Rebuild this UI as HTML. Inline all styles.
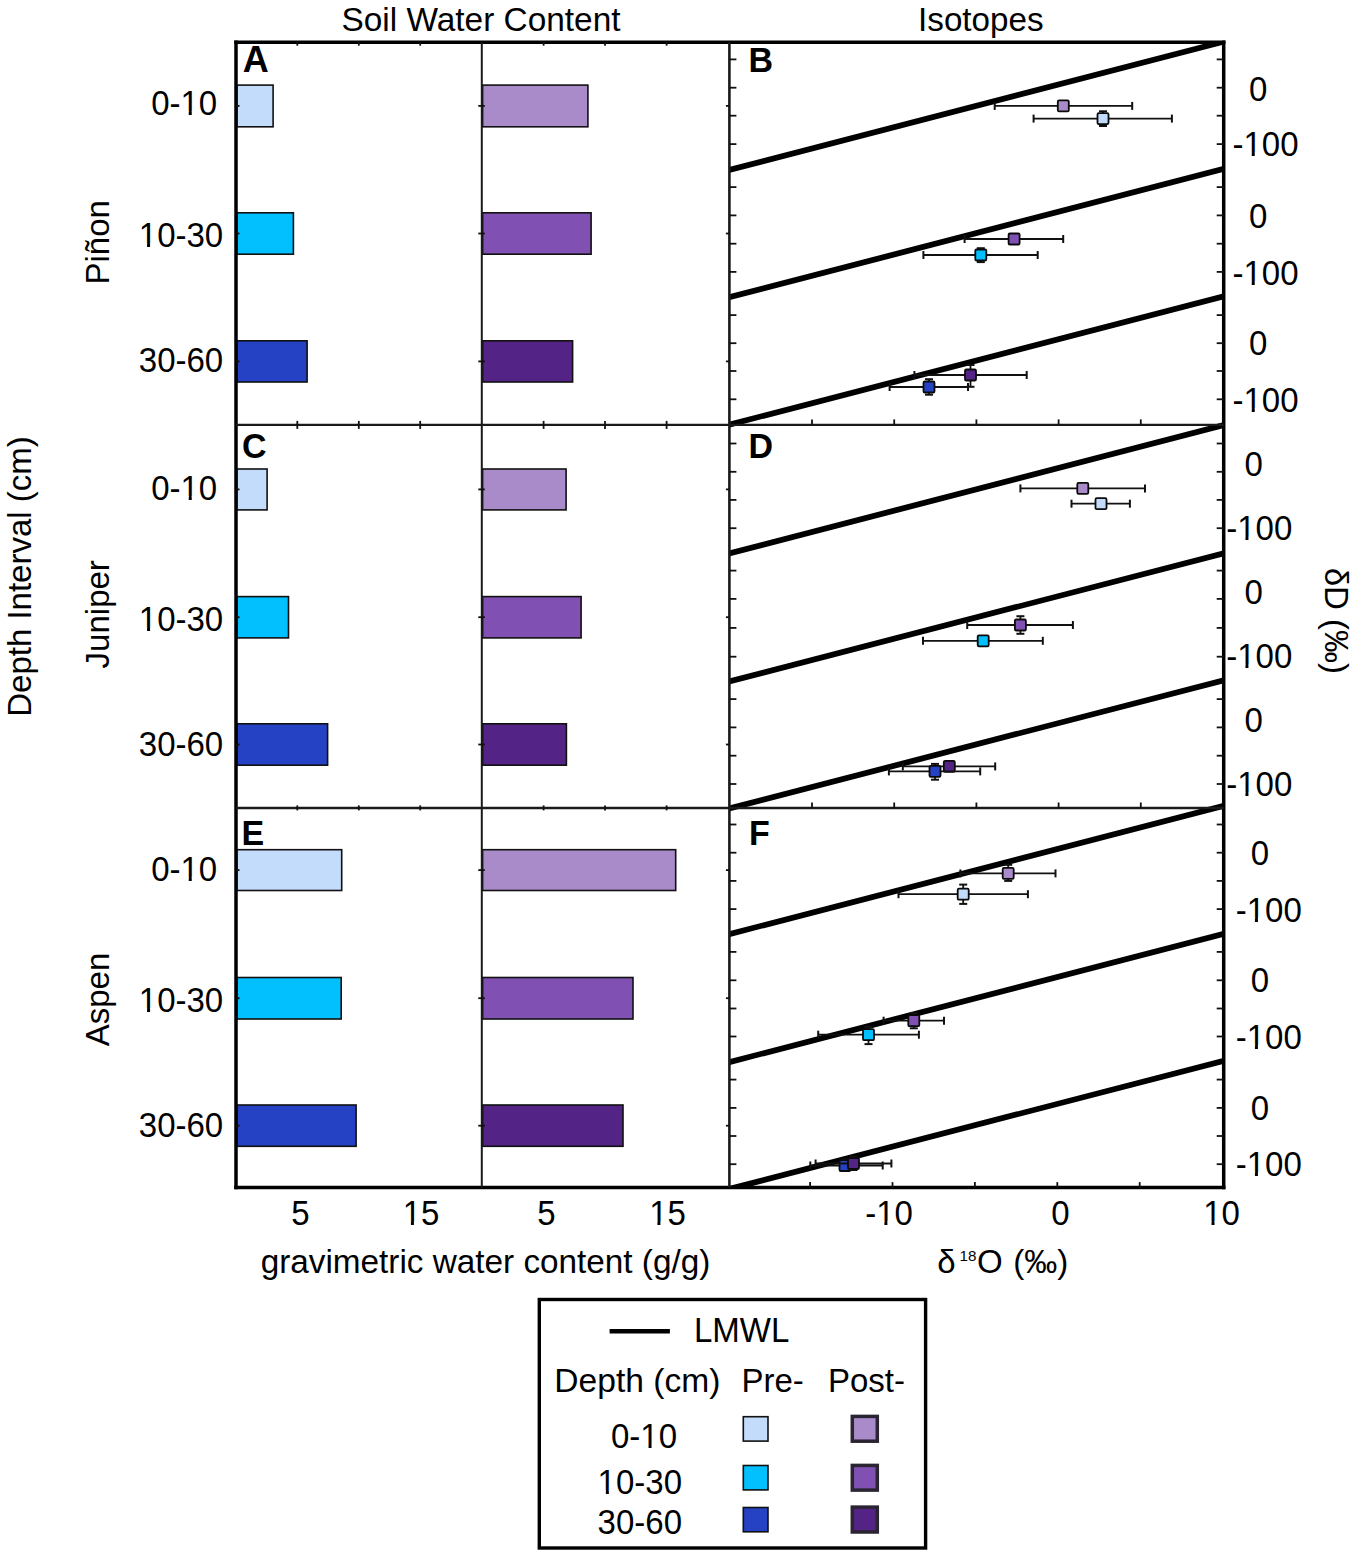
<!DOCTYPE html>
<html><head><meta charset="utf-8"><style>
html,body{margin:0;padding:0;background:#fff;}
body{width:1359px;height:1556px;position:relative;overflow:hidden;font-family:"Liberation Sans", sans-serif;}
</style></head><body>
<svg width="1359" height="1556" viewBox="0 0 1359 1556" style="position:absolute;left:0;top:0">
<rect x="236.80" y="85.10" width="36.30" height="41.70" fill="#c3dcfb" stroke="#111" stroke-width="1.6"/>
<rect x="482.60" y="85.10" width="105.30" height="41.70" fill="#a98bc9" stroke="#111" stroke-width="1.6"/>
<rect x="236.80" y="212.80" width="56.60" height="41.40" fill="#02bffd" stroke="#111" stroke-width="1.6"/>
<rect x="482.60" y="212.80" width="108.50" height="41.40" fill="#8050b3" stroke="#111" stroke-width="1.6"/>
<rect x="236.80" y="340.80" width="70.30" height="41.20" fill="#2541c4" stroke="#111" stroke-width="1.6"/>
<rect x="482.60" y="340.80" width="90.00" height="41.20" fill="#532485" stroke="#111" stroke-width="1.6"/>
<rect x="236.80" y="469.00" width="30.30" height="40.90" fill="#c3dcfb" stroke="#111" stroke-width="1.6"/>
<rect x="482.60" y="469.00" width="83.50" height="40.90" fill="#a98bc9" stroke="#111" stroke-width="1.6"/>
<rect x="236.80" y="596.60" width="51.70" height="41.30" fill="#02bffd" stroke="#111" stroke-width="1.6"/>
<rect x="482.60" y="596.60" width="98.50" height="41.30" fill="#8050b3" stroke="#111" stroke-width="1.6"/>
<rect x="236.80" y="723.80" width="90.80" height="41.40" fill="#2541c4" stroke="#111" stroke-width="1.6"/>
<rect x="482.60" y="723.80" width="83.80" height="41.40" fill="#532485" stroke="#111" stroke-width="1.6"/>
<rect x="236.80" y="849.70" width="104.90" height="40.80" fill="#c3dcfb" stroke="#111" stroke-width="1.6"/>
<rect x="482.60" y="849.70" width="193.10" height="40.80" fill="#a98bc9" stroke="#111" stroke-width="1.6"/>
<rect x="236.80" y="977.50" width="104.40" height="41.50" fill="#02bffd" stroke="#111" stroke-width="1.6"/>
<rect x="482.60" y="977.50" width="150.40" height="41.50" fill="#8050b3" stroke="#111" stroke-width="1.6"/>
<rect x="236.80" y="1105.00" width="119.30" height="41.30" fill="#2541c4" stroke="#111" stroke-width="1.6"/>
<rect x="482.60" y="1105.00" width="140.40" height="41.30" fill="#532485" stroke="#111" stroke-width="1.6"/>
<clipPath id="iso"><rect x="729.4" y="42.2" width="494.30000000000007" height="1145.3999999999999"/></clipPath>
<g clip-path="url(#iso)" stroke="#000" stroke-width="5.8" stroke-linecap="butt">
<line x1="726.4" y1="170.73" x2="1226.7" y2="40.90"/>
<line x1="726.4" y1="297.98" x2="1226.7" y2="168.15"/>
<line x1="726.4" y1="425.38" x2="1226.7" y2="295.55"/>
<line x1="726.4" y1="554.18" x2="1226.7" y2="424.35"/>
<line x1="726.4" y1="682.28" x2="1226.7" y2="552.45"/>
<line x1="726.4" y1="809.28" x2="1226.7" y2="679.45"/>
<line x1="726.4" y1="934.88" x2="1226.7" y2="805.05"/>
<line x1="726.4" y1="1062.88" x2="1226.7" y2="933.05"/>
<line x1="726.4" y1="1189.78" x2="1226.7" y2="1059.95"/>
</g>
<g stroke="#000" fill="none" stroke-linecap="square">
<line x1="236.0" y1="42.2" x2="1223.7" y2="42.2" stroke-width="3.5"/>
<line x1="236.0" y1="1187.6" x2="1223.7" y2="1187.6" stroke-width="3.5"/>
<line x1="236.0" y1="42.2" x2="236.0" y2="1187.6" stroke-width="3.5"/>
<line x1="1223.7" y1="42.2" x2="1223.7" y2="1187.6" stroke-width="3.5"/>
</g>
<g stroke="#1a1a1a" fill="none">
<line x1="481.8" y1="42.2" x2="481.8" y2="1187.6" stroke-width="2"/>
<line x1="729.4" y1="42.2" x2="729.4" y2="1187.6" stroke-width="2.6"/>
<line x1="236.0" y1="424.9" x2="1223.7" y2="424.9" stroke-width="2.3"/>
<line x1="236.0" y1="808.0" x2="1223.7" y2="808.0" stroke-width="2.5"/>
</g>
<g stroke="#111" stroke-width="1.8" fill="none">
<line x1="297.3" y1="42.2" x2="297.3" y2="45.7"/>
<line x1="297.3" y1="420.9" x2="297.3" y2="428.9"/>
<line x1="297.3" y1="805.4" x2="297.3" y2="810.4"/>
<line x1="358.8" y1="42.2" x2="358.8" y2="45.7"/>
<line x1="358.8" y1="420.9" x2="358.8" y2="428.9"/>
<line x1="358.8" y1="805.4" x2="358.8" y2="810.4"/>
<line x1="420.2" y1="42.2" x2="420.2" y2="45.7"/>
<line x1="420.2" y1="420.9" x2="420.2" y2="428.9"/>
<line x1="420.2" y1="805.4" x2="420.2" y2="810.4"/>
<line x1="543.6" y1="42.2" x2="543.6" y2="45.7"/>
<line x1="543.6" y1="420.9" x2="543.6" y2="428.9"/>
<line x1="543.6" y1="805.4" x2="543.6" y2="810.4"/>
<line x1="605.0" y1="42.2" x2="605.0" y2="45.7"/>
<line x1="605.0" y1="420.9" x2="605.0" y2="428.9"/>
<line x1="605.0" y1="805.4" x2="605.0" y2="810.4"/>
<line x1="666.6" y1="42.2" x2="666.6" y2="45.7"/>
<line x1="666.6" y1="420.9" x2="666.6" y2="428.9"/>
<line x1="666.6" y1="805.4" x2="666.6" y2="810.4"/>
<line x1="812.0" y1="424.9" x2="812.0" y2="419.4"/>
<line x1="812.0" y1="808.0" x2="812.0" y2="802.5"/>
<line x1="810.1" y1="1187.6" x2="810.1" y2="1182.1"/>
<line x1="894.2" y1="424.9" x2="894.2" y2="419.4"/>
<line x1="894.2" y1="808.0" x2="894.2" y2="802.5"/>
<line x1="892.5" y1="1187.6" x2="892.5" y2="1182.1"/>
<line x1="976.4" y1="424.9" x2="976.4" y2="419.4"/>
<line x1="976.4" y1="808.0" x2="976.4" y2="802.5"/>
<line x1="974.9" y1="1187.6" x2="974.9" y2="1182.1"/>
<line x1="1058.6" y1="424.9" x2="1058.6" y2="419.4"/>
<line x1="1058.6" y1="808.0" x2="1058.6" y2="802.5"/>
<line x1="1057.3" y1="1187.6" x2="1057.3" y2="1182.1"/>
<line x1="1140.8" y1="424.9" x2="1140.8" y2="419.4"/>
<line x1="1140.8" y1="808.0" x2="1140.8" y2="802.5"/>
<line x1="1139.7" y1="1187.6" x2="1139.7" y2="1182.1"/>
<line x1="236.0" y1="105.9" x2="239.5" y2="105.9"/>
<line x1="478.3" y1="105.9" x2="484.8" y2="105.9"/>
<line x1="725.9" y1="105.9" x2="729.4" y2="105.9"/>
<line x1="236.0" y1="233.5" x2="239.5" y2="233.5"/>
<line x1="478.3" y1="233.5" x2="484.8" y2="233.5"/>
<line x1="725.9" y1="233.5" x2="729.4" y2="233.5"/>
<line x1="236.0" y1="361.4" x2="239.5" y2="361.4"/>
<line x1="478.3" y1="361.4" x2="484.8" y2="361.4"/>
<line x1="725.9" y1="361.4" x2="729.4" y2="361.4"/>
<line x1="236.0" y1="489.4" x2="239.5" y2="489.4"/>
<line x1="478.3" y1="489.4" x2="484.8" y2="489.4"/>
<line x1="725.9" y1="489.4" x2="729.4" y2="489.4"/>
<line x1="236.0" y1="617.2" x2="239.5" y2="617.2"/>
<line x1="478.3" y1="617.2" x2="484.8" y2="617.2"/>
<line x1="725.9" y1="617.2" x2="729.4" y2="617.2"/>
<line x1="236.0" y1="744.5" x2="239.5" y2="744.5"/>
<line x1="478.3" y1="744.5" x2="484.8" y2="744.5"/>
<line x1="725.9" y1="744.5" x2="729.4" y2="744.5"/>
<line x1="236.0" y1="870.1" x2="239.5" y2="870.1"/>
<line x1="478.3" y1="870.1" x2="484.8" y2="870.1"/>
<line x1="725.9" y1="870.1" x2="729.4" y2="870.1"/>
<line x1="236.0" y1="998.2" x2="239.5" y2="998.2"/>
<line x1="478.3" y1="998.2" x2="484.8" y2="998.2"/>
<line x1="725.9" y1="998.2" x2="729.4" y2="998.2"/>
<line x1="236.0" y1="1125.7" x2="239.5" y2="1125.7"/>
<line x1="478.3" y1="1125.7" x2="484.8" y2="1125.7"/>
<line x1="725.9" y1="1125.7" x2="729.4" y2="1125.7"/>
<line x1="729.4" y1="59.4" x2="736.4" y2="59.4"/>
<line x1="1216.7" y1="59.4" x2="1223.7" y2="59.4"/>
<line x1="729.4" y1="87.7" x2="736.4" y2="87.7"/>
<line x1="1216.7" y1="87.7" x2="1223.7" y2="87.7"/>
<line x1="729.4" y1="115.7" x2="736.4" y2="115.7"/>
<line x1="1216.7" y1="115.7" x2="1223.7" y2="115.7"/>
<line x1="729.4" y1="144.1" x2="736.4" y2="144.1"/>
<line x1="1216.7" y1="144.1" x2="1223.7" y2="144.1"/>
<line x1="729.4" y1="187.1" x2="736.4" y2="187.1"/>
<line x1="1216.7" y1="187.1" x2="1223.7" y2="187.1"/>
<line x1="729.4" y1="215.4" x2="736.4" y2="215.4"/>
<line x1="1216.7" y1="215.4" x2="1223.7" y2="215.4"/>
<line x1="729.4" y1="243.7" x2="736.4" y2="243.7"/>
<line x1="1216.7" y1="243.7" x2="1223.7" y2="243.7"/>
<line x1="729.4" y1="271.9" x2="736.4" y2="271.9"/>
<line x1="1216.7" y1="271.9" x2="1223.7" y2="271.9"/>
<line x1="729.4" y1="315.1" x2="736.4" y2="315.1"/>
<line x1="1216.7" y1="315.1" x2="1223.7" y2="315.1"/>
<line x1="729.4" y1="343.2" x2="736.4" y2="343.2"/>
<line x1="1216.7" y1="343.2" x2="1223.7" y2="343.2"/>
<line x1="729.4" y1="371.0" x2="736.4" y2="371.0"/>
<line x1="1216.7" y1="371.0" x2="1223.7" y2="371.0"/>
<line x1="729.4" y1="399.3" x2="736.4" y2="399.3"/>
<line x1="1216.7" y1="399.3" x2="1223.7" y2="399.3"/>
<line x1="729.4" y1="443.5" x2="736.4" y2="443.5"/>
<line x1="1216.7" y1="443.5" x2="1223.7" y2="443.5"/>
<line x1="729.4" y1="471.8" x2="736.4" y2="471.8"/>
<line x1="1216.7" y1="471.8" x2="1223.7" y2="471.8"/>
<line x1="729.4" y1="499.9" x2="736.4" y2="499.9"/>
<line x1="1216.7" y1="499.9" x2="1223.7" y2="499.9"/>
<line x1="729.4" y1="528.2" x2="736.4" y2="528.2"/>
<line x1="1216.7" y1="528.2" x2="1223.7" y2="528.2"/>
<line x1="729.4" y1="570.6" x2="736.4" y2="570.6"/>
<line x1="1216.7" y1="570.6" x2="1223.7" y2="570.6"/>
<line x1="729.4" y1="598.9" x2="736.4" y2="598.9"/>
<line x1="1216.7" y1="598.9" x2="1223.7" y2="598.9"/>
<line x1="729.4" y1="627.9" x2="736.4" y2="627.9"/>
<line x1="1216.7" y1="627.9" x2="1223.7" y2="627.9"/>
<line x1="729.4" y1="656.7" x2="736.4" y2="656.7"/>
<line x1="1216.7" y1="656.7" x2="1223.7" y2="656.7"/>
<line x1="729.4" y1="699.1" x2="736.4" y2="699.1"/>
<line x1="1216.7" y1="699.1" x2="1223.7" y2="699.1"/>
<line x1="729.4" y1="727.4" x2="736.4" y2="727.4"/>
<line x1="1216.7" y1="727.4" x2="1223.7" y2="727.4"/>
<line x1="729.4" y1="755.7" x2="736.4" y2="755.7"/>
<line x1="1216.7" y1="755.7" x2="1223.7" y2="755.7"/>
<line x1="729.4" y1="784.0" x2="736.4" y2="784.0"/>
<line x1="1216.7" y1="784.0" x2="1223.7" y2="784.0"/>
<line x1="729.4" y1="824.5" x2="736.4" y2="824.5"/>
<line x1="1216.7" y1="824.5" x2="1223.7" y2="824.5"/>
<line x1="729.4" y1="852.7" x2="736.4" y2="852.7"/>
<line x1="1216.7" y1="852.7" x2="1223.7" y2="852.7"/>
<line x1="729.4" y1="880.9" x2="736.4" y2="880.9"/>
<line x1="1216.7" y1="880.9" x2="1223.7" y2="880.9"/>
<line x1="729.4" y1="909.1" x2="736.4" y2="909.1"/>
<line x1="1216.7" y1="909.1" x2="1223.7" y2="909.1"/>
<line x1="729.4" y1="951.9" x2="736.4" y2="951.9"/>
<line x1="1216.7" y1="951.9" x2="1223.7" y2="951.9"/>
<line x1="729.4" y1="980.3" x2="736.4" y2="980.3"/>
<line x1="1216.7" y1="980.3" x2="1223.7" y2="980.3"/>
<line x1="729.4" y1="1008.5" x2="736.4" y2="1008.5"/>
<line x1="1216.7" y1="1008.5" x2="1223.7" y2="1008.5"/>
<line x1="729.4" y1="1036.5" x2="736.4" y2="1036.5"/>
<line x1="1216.7" y1="1036.5" x2="1223.7" y2="1036.5"/>
<line x1="729.4" y1="1079.6" x2="736.4" y2="1079.6"/>
<line x1="1216.7" y1="1079.6" x2="1223.7" y2="1079.6"/>
<line x1="729.4" y1="1107.9" x2="736.4" y2="1107.9"/>
<line x1="1216.7" y1="1107.9" x2="1223.7" y2="1107.9"/>
<line x1="729.4" y1="1136.0" x2="736.4" y2="1136.0"/>
<line x1="1216.7" y1="1136.0" x2="1223.7" y2="1136.0"/>
<line x1="729.4" y1="1164.2" x2="736.4" y2="1164.2"/>
<line x1="1216.7" y1="1164.2" x2="1223.7" y2="1164.2"/>
</g>
<g>
<line x1="994.7" y1="105.9" x2="1132.2" y2="105.9" stroke="#111" stroke-width="1.8"/><line x1="994.7" y1="101.9" x2="994.7" y2="109.9" stroke="#111" stroke-width="2"/><line x1="1132.2" y1="101.9" x2="1132.2" y2="109.9" stroke="#111" stroke-width="2"/><rect x="1057.8" y="100.4" width="11.0" height="11.0" rx="1.3" fill="#a98bc9" stroke="#0a0a0a" stroke-width="1.8"/>
<line x1="1033.6" y1="118.6" x2="1171.9" y2="118.6" stroke="#111" stroke-width="1.8"/><line x1="1033.6" y1="114.6" x2="1033.6" y2="122.6" stroke="#111" stroke-width="2"/><line x1="1171.9" y1="114.6" x2="1171.9" y2="122.6" stroke="#111" stroke-width="2"/><line x1="1103.0" y1="111.3" x2="1103.0" y2="126.0" stroke="#111" stroke-width="1.8"/><line x1="1099.0" y1="111.3" x2="1107.0" y2="111.3" stroke="#111" stroke-width="2"/><line x1="1099.0" y1="126.0" x2="1107.0" y2="126.0" stroke="#111" stroke-width="2"/><rect x="1097.5" y="113.1" width="11.0" height="11.0" rx="1.3" fill="#c3dcfb" stroke="#0a0a0a" stroke-width="1.8"/>
<line x1="964.6" y1="239.0" x2="1063.2" y2="239.0" stroke="#111" stroke-width="1.8"/><line x1="964.6" y1="235.0" x2="964.6" y2="243.0" stroke="#111" stroke-width="2"/><line x1="1063.2" y1="235.0" x2="1063.2" y2="243.0" stroke="#111" stroke-width="2"/><rect x="1008.6" y="233.5" width="11.0" height="11.0" rx="1.3" fill="#8050b3" stroke="#0a0a0a" stroke-width="1.8"/>
<line x1="923.4" y1="255.0" x2="1037.7" y2="255.0" stroke="#111" stroke-width="1.8"/><line x1="923.4" y1="251.0" x2="923.4" y2="259.0" stroke="#111" stroke-width="2"/><line x1="1037.7" y1="251.0" x2="1037.7" y2="259.0" stroke="#111" stroke-width="2"/><line x1="980.8" y1="248.2" x2="980.8" y2="262.1" stroke="#111" stroke-width="1.8"/><line x1="976.8" y1="248.2" x2="984.8" y2="248.2" stroke="#111" stroke-width="2"/><line x1="976.8" y1="262.1" x2="984.8" y2="262.1" stroke="#111" stroke-width="2"/><rect x="975.3" y="249.5" width="11.0" height="11.0" rx="1.3" fill="#02bffd" stroke="#0a0a0a" stroke-width="1.8"/>
<line x1="914.4" y1="375.0" x2="1026.7" y2="375.0" stroke="#111" stroke-width="1.8"/><line x1="914.4" y1="371.0" x2="914.4" y2="379.0" stroke="#111" stroke-width="2"/><line x1="1026.7" y1="371.0" x2="1026.7" y2="379.0" stroke="#111" stroke-width="2"/><line x1="970.5" y1="365.0" x2="970.5" y2="386.8" stroke="#111" stroke-width="1.8"/><line x1="966.5" y1="365.0" x2="974.5" y2="365.0" stroke="#111" stroke-width="2"/><line x1="966.5" y1="386.8" x2="974.5" y2="386.8" stroke="#111" stroke-width="2"/><rect x="965.0" y="369.5" width="11.0" height="11.0" rx="1.3" fill="#532485" stroke="#0a0a0a" stroke-width="1.8"/>
<line x1="889.6" y1="387.0" x2="968.0" y2="387.0" stroke="#111" stroke-width="1.8"/><line x1="889.6" y1="383.0" x2="889.6" y2="391.0" stroke="#111" stroke-width="2"/><line x1="968.0" y1="383.0" x2="968.0" y2="391.0" stroke="#111" stroke-width="2"/><line x1="929.0" y1="379.2" x2="929.0" y2="394.7" stroke="#111" stroke-width="1.8"/><line x1="925.0" y1="379.2" x2="933.0" y2="379.2" stroke="#111" stroke-width="2"/><line x1="925.0" y1="394.7" x2="933.0" y2="394.7" stroke="#111" stroke-width="2"/><rect x="923.5" y="381.5" width="11.0" height="11.0" rx="1.3" fill="#2541c4" stroke="#0a0a0a" stroke-width="1.8"/>
<line x1="1020.4" y1="488.4" x2="1145.0" y2="488.4" stroke="#111" stroke-width="1.8"/><line x1="1020.4" y1="484.4" x2="1020.4" y2="492.4" stroke="#111" stroke-width="2"/><line x1="1145.0" y1="484.4" x2="1145.0" y2="492.4" stroke="#111" stroke-width="2"/><rect x="1077.3" y="482.9" width="11.0" height="11.0" rx="1.3" fill="#a98bc9" stroke="#0a0a0a" stroke-width="1.8"/>
<line x1="1071.5" y1="503.7" x2="1129.9" y2="503.7" stroke="#111" stroke-width="1.8"/><line x1="1071.5" y1="499.7" x2="1071.5" y2="507.7" stroke="#111" stroke-width="2"/><line x1="1129.9" y1="499.7" x2="1129.9" y2="507.7" stroke="#111" stroke-width="2"/><rect x="1095.5" y="498.2" width="11.0" height="11.0" rx="1.3" fill="#c3dcfb" stroke="#0a0a0a" stroke-width="1.8"/>
<line x1="967.2" y1="625.0" x2="1072.9" y2="625.0" stroke="#111" stroke-width="1.8"/><line x1="967.2" y1="621.0" x2="967.2" y2="629.0" stroke="#111" stroke-width="2"/><line x1="1072.9" y1="621.0" x2="1072.9" y2="629.0" stroke="#111" stroke-width="2"/><line x1="1020.4" y1="616.2" x2="1020.4" y2="633.8" stroke="#111" stroke-width="1.8"/><line x1="1016.4" y1="616.2" x2="1024.4" y2="616.2" stroke="#111" stroke-width="2"/><line x1="1016.4" y1="633.8" x2="1024.4" y2="633.8" stroke="#111" stroke-width="2"/><rect x="1014.9" y="619.5" width="11.0" height="11.0" rx="1.3" fill="#8050b3" stroke="#0a0a0a" stroke-width="1.8"/>
<line x1="923.0" y1="640.8" x2="1042.8" y2="640.8" stroke="#111" stroke-width="1.8"/><line x1="923.0" y1="636.8" x2="923.0" y2="644.8" stroke="#111" stroke-width="2"/><line x1="1042.8" y1="636.8" x2="1042.8" y2="644.8" stroke="#111" stroke-width="2"/><rect x="977.7" y="635.3" width="11.0" height="11.0" rx="1.3" fill="#02bffd" stroke="#0a0a0a" stroke-width="1.8"/>
<line x1="902.8" y1="766.4" x2="995.2" y2="766.4" stroke="#111" stroke-width="1.8"/><line x1="902.8" y1="762.4" x2="902.8" y2="770.4" stroke="#111" stroke-width="2"/><line x1="995.2" y1="762.4" x2="995.2" y2="770.4" stroke="#111" stroke-width="2"/><rect x="943.8" y="760.9" width="11.0" height="11.0" rx="1.3" fill="#532485" stroke="#0a0a0a" stroke-width="1.8"/>
<line x1="888.9" y1="771.4" x2="980.2" y2="771.4" stroke="#111" stroke-width="1.8"/><line x1="888.9" y1="767.4" x2="888.9" y2="775.4" stroke="#111" stroke-width="2"/><line x1="980.2" y1="767.4" x2="980.2" y2="775.4" stroke="#111" stroke-width="2"/><line x1="935.0" y1="763.9" x2="935.0" y2="779.7" stroke="#111" stroke-width="1.8"/><line x1="931.0" y1="763.9" x2="939.0" y2="763.9" stroke="#111" stroke-width="2"/><line x1="931.0" y1="779.7" x2="939.0" y2="779.7" stroke="#111" stroke-width="2"/><rect x="929.5" y="765.9" width="11.0" height="11.0" rx="1.3" fill="#2541c4" stroke="#0a0a0a" stroke-width="1.8"/>
<line x1="960.4" y1="873.4" x2="1055.5" y2="873.4" stroke="#111" stroke-width="1.8"/><line x1="960.4" y1="869.4" x2="960.4" y2="877.4" stroke="#111" stroke-width="2"/><line x1="1055.5" y1="869.4" x2="1055.5" y2="877.4" stroke="#111" stroke-width="2"/><line x1="1008.2" y1="864.8" x2="1008.2" y2="880.9" stroke="#111" stroke-width="1.8"/><line x1="1004.2" y1="864.8" x2="1012.2" y2="864.8" stroke="#111" stroke-width="2"/><line x1="1004.2" y1="880.9" x2="1012.2" y2="880.9" stroke="#111" stroke-width="2"/><rect x="1002.7" y="867.9" width="11.0" height="11.0" rx="1.3" fill="#a98bc9" stroke="#0a0a0a" stroke-width="1.8"/>
<line x1="898.5" y1="894.2" x2="1027.9" y2="894.2" stroke="#111" stroke-width="1.8"/><line x1="898.5" y1="890.2" x2="898.5" y2="898.2" stroke="#111" stroke-width="2"/><line x1="1027.9" y1="890.2" x2="1027.9" y2="898.2" stroke="#111" stroke-width="2"/><line x1="963.2" y1="884.6" x2="963.2" y2="903.9" stroke="#111" stroke-width="1.8"/><line x1="959.2" y1="884.6" x2="967.2" y2="884.6" stroke="#111" stroke-width="2"/><line x1="959.2" y1="903.9" x2="967.2" y2="903.9" stroke="#111" stroke-width="2"/><rect x="957.7" y="888.7" width="11.0" height="11.0" rx="1.3" fill="#c3dcfb" stroke="#0a0a0a" stroke-width="1.8"/>
<line x1="883.6" y1="1020.7" x2="944.0" y2="1020.7" stroke="#111" stroke-width="1.8"/><line x1="883.6" y1="1016.7" x2="883.6" y2="1024.7" stroke="#111" stroke-width="2"/><line x1="944.0" y1="1016.7" x2="944.0" y2="1024.7" stroke="#111" stroke-width="2"/><line x1="913.8" y1="1013.0" x2="913.8" y2="1028.3" stroke="#111" stroke-width="1.8"/><line x1="909.8" y1="1013.0" x2="917.8" y2="1013.0" stroke="#111" stroke-width="2"/><line x1="909.8" y1="1028.3" x2="917.8" y2="1028.3" stroke="#111" stroke-width="2"/><rect x="908.3" y="1015.2" width="11.0" height="11.0" rx="1.3" fill="#8050b3" stroke="#0a0a0a" stroke-width="1.8"/>
<line x1="818.2" y1="1034.7" x2="918.9" y2="1034.7" stroke="#111" stroke-width="1.8"/><line x1="818.2" y1="1030.7" x2="818.2" y2="1038.7" stroke="#111" stroke-width="2"/><line x1="918.9" y1="1030.7" x2="918.9" y2="1038.7" stroke="#111" stroke-width="2"/><line x1="868.5" y1="1027.0" x2="868.5" y2="1044.1" stroke="#111" stroke-width="1.8"/><line x1="864.5" y1="1027.0" x2="872.5" y2="1027.0" stroke="#111" stroke-width="2"/><line x1="864.5" y1="1044.1" x2="872.5" y2="1044.1" stroke="#111" stroke-width="2"/><rect x="863.0" y="1029.2" width="11.0" height="11.0" rx="1.3" fill="#02bffd" stroke="#0a0a0a" stroke-width="1.8"/>
<line x1="810.3" y1="1165.5" x2="882.7" y2="1165.5" stroke="#111" stroke-width="1.8"/><line x1="810.3" y1="1161.5" x2="810.3" y2="1169.5" stroke="#111" stroke-width="2"/><line x1="882.7" y1="1161.5" x2="882.7" y2="1169.5" stroke="#111" stroke-width="2"/><line x1="845.0" y1="1159.0" x2="845.0" y2="1171.0" stroke="#111" stroke-width="1.8"/><line x1="841.0" y1="1159.0" x2="849.0" y2="1159.0" stroke="#111" stroke-width="2"/><line x1="841.0" y1="1171.0" x2="849.0" y2="1171.0" stroke="#111" stroke-width="2"/><rect x="839.5" y="1160.0" width="11.0" height="11.0" rx="1.3" fill="#2541c4" stroke="#0a0a0a" stroke-width="1.8"/>
<line x1="815.6" y1="1163.5" x2="891.4" y2="1163.5" stroke="#111" stroke-width="1.8"/><line x1="815.6" y1="1159.5" x2="815.6" y2="1167.5" stroke="#111" stroke-width="2"/><line x1="891.4" y1="1159.5" x2="891.4" y2="1167.5" stroke="#111" stroke-width="2"/><line x1="853.5" y1="1156.5" x2="853.5" y2="1170.0" stroke="#111" stroke-width="1.8"/><line x1="849.5" y1="1156.5" x2="857.5" y2="1156.5" stroke="#111" stroke-width="2"/><line x1="849.5" y1="1170.0" x2="857.5" y2="1170.0" stroke="#111" stroke-width="2"/><rect x="848.0" y="1158.0" width="11.0" height="11.0" rx="1.3" fill="#532485" stroke="#0a0a0a" stroke-width="1.8"/>
</g>
<text x="481" y="30.8" font-family='"Liberation Sans", sans-serif' font-size="33.4" font-weight="400" text-anchor="middle" >Soil Water Content</text>
<text x="980.8" y="30.8" font-family='"Liberation Sans", sans-serif' font-size="33.2" font-weight="400" text-anchor="middle" >Isotopes</text>
<text transform="translate(242.8,72.2) scale(1,1.045)" font-family='"Liberation Sans", sans-serif' font-size="36" font-weight="700" text-anchor="start" >A</text>
<text transform="translate(748.5,71.9) scale(1,1.045)" font-family='"Liberation Sans", sans-serif' font-size="34" font-weight="700" text-anchor="start" >B</text>
<text transform="translate(242,457.7) scale(1,1.045)" font-family='"Liberation Sans", sans-serif' font-size="34" font-weight="700" text-anchor="start" >C</text>
<text transform="translate(748.5,457.7) scale(1,1.045)" font-family='"Liberation Sans", sans-serif' font-size="34" font-weight="700" text-anchor="start" >D</text>
<text transform="translate(241.5,845) scale(1,1.045)" font-family='"Liberation Sans", sans-serif' font-size="34" font-weight="700" text-anchor="start" >E</text>
<text transform="translate(749,845) scale(1,1.045)" font-family='"Liberation Sans", sans-serif' font-size="34" font-weight="700" text-anchor="start" >F</text>
<text transform="translate(217.2,114.8) scale(1,1.04)" font-family='"Liberation Sans", sans-serif' font-size="33" font-weight="400" text-anchor="end" >0-10</text>
<text transform="translate(223.2,247.0) scale(1,1.04)" font-family='"Liberation Sans", sans-serif' font-size="33" font-weight="400" text-anchor="end" >10-30</text>
<text transform="translate(223.2,371.5) scale(1,1.04)" font-family='"Liberation Sans", sans-serif' font-size="33" font-weight="400" text-anchor="end" >30-60</text>
<text transform="translate(217.2,499.5) scale(1,1.04)" font-family='"Liberation Sans", sans-serif' font-size="33" font-weight="400" text-anchor="end" >0-10</text>
<text transform="translate(223.2,631.3) scale(1,1.04)" font-family='"Liberation Sans", sans-serif' font-size="33" font-weight="400" text-anchor="end" >10-30</text>
<text transform="translate(223.2,756.0) scale(1,1.04)" font-family='"Liberation Sans", sans-serif' font-size="33" font-weight="400" text-anchor="end" >30-60</text>
<text transform="translate(217.2,880.7) scale(1,1.04)" font-family='"Liberation Sans", sans-serif' font-size="33" font-weight="400" text-anchor="end" >0-10</text>
<text transform="translate(223.2,1011.7) scale(1,1.04)" font-family='"Liberation Sans", sans-serif' font-size="33" font-weight="400" text-anchor="end" >10-30</text>
<text transform="translate(223.2,1137.1) scale(1,1.04)" font-family='"Liberation Sans", sans-serif' font-size="33" font-weight="400" text-anchor="end" >30-60</text>
<text transform="translate(1249.0,100.5) scale(1,1.04)" font-family='"Liberation Sans", sans-serif' font-size="33" font-weight="400" text-anchor="start" >0</text>
<text transform="translate(1232.5,156.2) scale(1,1.04)" font-family='"Liberation Sans", sans-serif' font-size="33" font-weight="400" text-anchor="start" >-100</text>
<text transform="translate(1249.0,228.4) scale(1,1.04)" font-family='"Liberation Sans", sans-serif' font-size="33" font-weight="400" text-anchor="start" >0</text>
<text transform="translate(1232.5,285.0) scale(1,1.04)" font-family='"Liberation Sans", sans-serif' font-size="33" font-weight="400" text-anchor="start" >-100</text>
<text transform="translate(1249.0,355.2) scale(1,1.04)" font-family='"Liberation Sans", sans-serif' font-size="33" font-weight="400" text-anchor="start" >0</text>
<text transform="translate(1232.5,411.9) scale(1,1.04)" font-family='"Liberation Sans", sans-serif' font-size="33" font-weight="400" text-anchor="start" >-100</text>
<text transform="translate(1244.5,476.4) scale(1,1.04)" font-family='"Liberation Sans", sans-serif' font-size="33" font-weight="400" text-anchor="start" >0</text>
<text transform="translate(1226.2,540.3) scale(1,1.04)" font-family='"Liberation Sans", sans-serif' font-size="33" font-weight="400" text-anchor="start" >-100</text>
<text transform="translate(1244.5,604.2) scale(1,1.04)" font-family='"Liberation Sans", sans-serif' font-size="33" font-weight="400" text-anchor="start" >0</text>
<text transform="translate(1226.2,668.1) scale(1,1.04)" font-family='"Liberation Sans", sans-serif' font-size="33" font-weight="400" text-anchor="start" >-100</text>
<text transform="translate(1244.5,732.0) scale(1,1.04)" font-family='"Liberation Sans", sans-serif' font-size="33" font-weight="400" text-anchor="start" >0</text>
<text transform="translate(1226.2,796.0) scale(1,1.04)" font-family='"Liberation Sans", sans-serif' font-size="33" font-weight="400" text-anchor="start" >-100</text>
<text transform="translate(1250.7,864.7) scale(1,1.04)" font-family='"Liberation Sans", sans-serif' font-size="33" font-weight="400" text-anchor="start" >0</text>
<text transform="translate(1235.7,921.6) scale(1,1.04)" font-family='"Liberation Sans", sans-serif' font-size="33" font-weight="400" text-anchor="start" >-100</text>
<text transform="translate(1250.7,991.7) scale(1,1.04)" font-family='"Liberation Sans", sans-serif' font-size="33" font-weight="400" text-anchor="start" >0</text>
<text transform="translate(1235.7,1048.6) scale(1,1.04)" font-family='"Liberation Sans", sans-serif' font-size="33" font-weight="400" text-anchor="start" >-100</text>
<text transform="translate(1250.7,1119.5) scale(1,1.04)" font-family='"Liberation Sans", sans-serif' font-size="33" font-weight="400" text-anchor="start" >0</text>
<text transform="translate(1235.7,1175.9) scale(1,1.04)" font-family='"Liberation Sans", sans-serif' font-size="33" font-weight="400" text-anchor="start" >-100</text>
<text transform="translate(300.4,1225.1) scale(1,1.04)" font-family='"Liberation Sans", sans-serif' font-size="33" font-weight="400" text-anchor="middle" >5</text>
<text transform="translate(421.0,1225.1) scale(1,1.04)" font-family='"Liberation Sans", sans-serif' font-size="33" font-weight="400" text-anchor="middle" >15</text>
<text transform="translate(546.5,1225.1) scale(1,1.04)" font-family='"Liberation Sans", sans-serif' font-size="33" font-weight="400" text-anchor="middle" >5</text>
<text transform="translate(667.5,1225.1) scale(1,1.04)" font-family='"Liberation Sans", sans-serif' font-size="33" font-weight="400" text-anchor="middle" >15</text>
<text transform="translate(889.0,1224.7) scale(1,1.04)" font-family='"Liberation Sans", sans-serif' font-size="33" font-weight="400" text-anchor="middle" >-10</text>
<text transform="translate(1060.4,1224.7) scale(1,1.04)" font-family='"Liberation Sans", sans-serif' font-size="33" font-weight="400" text-anchor="middle" >0</text>
<text transform="translate(1221.6,1224.7) scale(1,1.04)" font-family='"Liberation Sans", sans-serif' font-size="33" font-weight="400" text-anchor="middle" >10</text>
<text x="485.5" y="1273.2" font-family='"Liberation Sans", sans-serif' font-size="33.3" font-weight="400" text-anchor="middle" >gravimetric water content (g/g)</text>
<text x="937.3" y="1273.3" font-family='"Liberation Sans", sans-serif' font-size="33">δ</text>
<text x="959.6" y="1260.8" font-family='"Liberation Sans", sans-serif' font-size="15.2">18</text>
<text x="977.0" y="1273.3" font-family='"Liberation Sans", sans-serif' font-size="33">O <tspan dx="1.5">(‰)</tspan></text>
<text transform="translate(31,576.5) rotate(-90)" font-family='"Liberation Sans", sans-serif' font-size="33" text-anchor="middle">Depth Interval (cm)</text>
<text transform="translate(108.5,242.3) rotate(-90)" font-family='"Liberation Sans", sans-serif' font-size="33" text-anchor="middle">Piñon</text>
<text transform="translate(108.5,614.3) rotate(-90)" font-family='"Liberation Sans", sans-serif' font-size="33" text-anchor="middle">Juniper</text>
<text transform="translate(108.5,999.5) rotate(-90)" font-family='"Liberation Sans", sans-serif' font-size="33" text-anchor="middle">Aspen</text>
<text transform="translate(1324.7,620.8) rotate(90)" font-family='"Liberation Sans", sans-serif' font-size="33" text-anchor="middle">δD (‰)</text>
<rect x="539.3" y="1299.5" width="386.3" height="248.5" fill="none" stroke="#000" stroke-width="3.4"/>
<line x1="609.6" y1="1331.2" x2="669.9" y2="1331.2" stroke="#000" stroke-width="4.6"/>
<text transform="translate(694,1341.8) scale(1,1.045)" font-family='"Liberation Sans", sans-serif' font-size="33" font-weight="400" text-anchor="start" >LMWL</text>
<text x="554.3" y="1391.9" font-family='"Liberation Sans", sans-serif' font-size="33.6" font-weight="400" text-anchor="start" >Depth (cm)</text>
<text x="741.5" y="1391.9" font-family='"Liberation Sans", sans-serif' font-size="33" font-weight="400" text-anchor="start" >Pre-</text>
<text x="828" y="1391.9" font-family='"Liberation Sans", sans-serif' font-size="33" font-weight="400" text-anchor="start" >Post-</text>
<text transform="translate(677,1448.4) scale(1,1.04)" font-family='"Liberation Sans", sans-serif' font-size="33" font-weight="400" text-anchor="end" >0-10</text>
<text transform="translate(682,1493.8) scale(1,1.04)" font-family='"Liberation Sans", sans-serif' font-size="33" font-weight="400" text-anchor="end" >10-30</text>
<text transform="translate(682,1534.0) scale(1,1.04)" font-family='"Liberation Sans", sans-serif' font-size="33" font-weight="400" text-anchor="end" >30-60</text>
<rect x="743.3" y="1416.7" width="24.7" height="24.4" fill="#c3dcfb" stroke="#111" stroke-width="1.6"/>
<rect x="852.3000000000001" y="1416.3999999999999" width="25.0" height="24.8" fill="#a98bc9" stroke="#2a2530" stroke-width="3.5"/>
<rect x="743.3" y="1465.5" width="24.7" height="24.4" fill="#02bffd" stroke="#111" stroke-width="1.6"/>
<rect x="852.3000000000001" y="1465.3999999999999" width="25.0" height="24.7" fill="#8050b3" stroke="#2a2530" stroke-width="3.5"/>
<rect x="743.3" y="1507.5" width="24.7" height="24.3" fill="#2541c4" stroke="#111" stroke-width="1.6"/>
<rect x="852.3000000000001" y="1507.1" width="25.0" height="24.9" fill="#532485" stroke="#2a2530" stroke-width="3.5"/>
<g><g transform="translate(217.2,114.8) scale(1,1.04)"><rect x="-35.10" y="-3.37" width="6.64" height="4.07" fill="#fff"/><rect x="-25.45" y="-3.37" width="6.38" height="4.07" fill="#fff"/></g><g transform="translate(223.2,247.0) scale(1,1.04)"><rect x="-82.78" y="-3.37" width="6.64" height="4.07" fill="#fff"/><rect x="-73.13" y="-3.37" width="6.38" height="4.07" fill="#fff"/></g><g transform="translate(217.2,499.5) scale(1,1.04)"><rect x="-35.10" y="-3.37" width="6.64" height="4.07" fill="#fff"/><rect x="-25.45" y="-3.37" width="6.38" height="4.07" fill="#fff"/></g><g transform="translate(223.2,631.3) scale(1,1.04)"><rect x="-82.78" y="-3.37" width="6.64" height="4.07" fill="#fff"/><rect x="-73.13" y="-3.37" width="6.38" height="4.07" fill="#fff"/></g><g transform="translate(217.2,880.7) scale(1,1.04)"><rect x="-35.10" y="-3.37" width="6.64" height="4.07" fill="#fff"/><rect x="-25.45" y="-3.37" width="6.38" height="4.07" fill="#fff"/></g><g transform="translate(223.2,1011.7) scale(1,1.04)"><rect x="-82.78" y="-3.37" width="6.64" height="4.07" fill="#fff"/><rect x="-73.13" y="-3.37" width="6.38" height="4.07" fill="#fff"/></g><g transform="translate(1232.5,156.2) scale(1,1.04)"><rect x="12.59" y="-3.37" width="6.64" height="4.07" fill="#fff"/><rect x="22.24" y="-3.37" width="6.38" height="4.07" fill="#fff"/></g><g transform="translate(1232.5,285.0) scale(1,1.04)"><rect x="12.59" y="-3.37" width="6.64" height="4.07" fill="#fff"/><rect x="22.24" y="-3.37" width="6.38" height="4.07" fill="#fff"/></g><g transform="translate(1232.5,411.9) scale(1,1.04)"><rect x="12.59" y="-3.37" width="6.64" height="4.07" fill="#fff"/><rect x="22.24" y="-3.37" width="6.38" height="4.07" fill="#fff"/></g><g transform="translate(1226.2,540.3) scale(1,1.04)"><rect x="12.59" y="-3.37" width="6.64" height="4.07" fill="#fff"/><rect x="22.24" y="-3.37" width="6.38" height="4.07" fill="#fff"/></g><g transform="translate(1226.2,668.1) scale(1,1.04)"><rect x="12.59" y="-3.37" width="6.64" height="4.07" fill="#fff"/><rect x="22.24" y="-3.37" width="6.38" height="4.07" fill="#fff"/></g><g transform="translate(1226.2,796.0) scale(1,1.04)"><rect x="12.59" y="-3.37" width="6.64" height="4.07" fill="#fff"/><rect x="22.24" y="-3.37" width="6.38" height="4.07" fill="#fff"/></g><g transform="translate(1235.7,921.6) scale(1,1.04)"><rect x="12.59" y="-3.37" width="6.64" height="4.07" fill="#fff"/><rect x="22.24" y="-3.37" width="6.38" height="4.07" fill="#fff"/></g><g transform="translate(1235.7,1048.6) scale(1,1.04)"><rect x="12.59" y="-3.37" width="6.64" height="4.07" fill="#fff"/><rect x="22.24" y="-3.37" width="6.38" height="4.07" fill="#fff"/></g><g transform="translate(1235.7,1175.9) scale(1,1.04)"><rect x="12.59" y="-3.37" width="6.64" height="4.07" fill="#fff"/><rect x="22.24" y="-3.37" width="6.38" height="4.07" fill="#fff"/></g><g transform="translate(421.0,1225.1) scale(1,1.04)"><rect x="-16.74" y="-3.37" width="6.64" height="4.07" fill="#fff"/><rect x="-7.09" y="-3.37" width="6.38" height="4.07" fill="#fff"/></g><g transform="translate(667.5,1225.1) scale(1,1.04)"><rect x="-16.74" y="-3.37" width="6.64" height="4.07" fill="#fff"/><rect x="-7.09" y="-3.37" width="6.38" height="4.07" fill="#fff"/></g><g transform="translate(889.0,1224.7) scale(1,1.04)"><rect x="-11.25" y="-3.37" width="6.64" height="4.07" fill="#fff"/><rect x="-1.60" y="-3.37" width="6.38" height="4.07" fill="#fff"/></g><g transform="translate(1221.6,1224.7) scale(1,1.04)"><rect x="-16.74" y="-3.37" width="6.64" height="4.07" fill="#fff"/><rect x="-7.09" y="-3.37" width="6.38" height="4.07" fill="#fff"/></g><g transform="translate(677,1448.4) scale(1,1.04)"><rect x="-35.10" y="-3.37" width="6.64" height="4.07" fill="#fff"/><rect x="-25.45" y="-3.37" width="6.38" height="4.07" fill="#fff"/></g><g transform="translate(682,1493.8) scale(1,1.04)"><rect x="-82.78" y="-3.37" width="6.64" height="4.07" fill="#fff"/><rect x="-73.13" y="-3.37" width="6.38" height="4.07" fill="#fff"/></g></g></svg>
</body></html>
